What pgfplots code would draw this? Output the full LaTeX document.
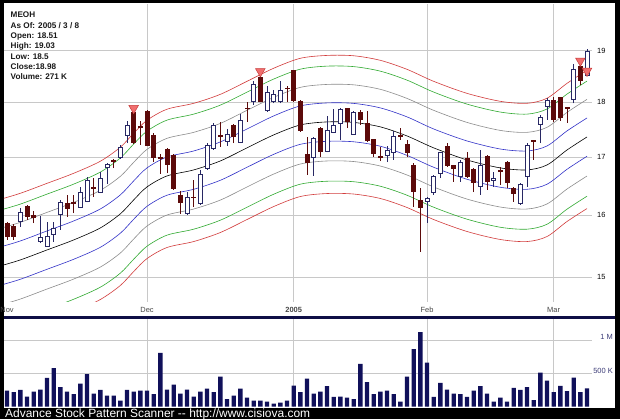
\documentclass[border=0pt]{standalone}
\usepackage{fontspec}
\setmainfont{Liberation Sans}
\usepackage{pgfplots}
\usepackage{pgfplotstable}
\pgfplotsset{compat=1.18}

\definecolor{candledn}{RGB}{92,10,10}
\definecolor{candleup}{RGB}{40,40,100}
\definecolor{bandred}{RGB}{210,60,60}
\definecolor{bandgreen}{RGB}{50,170,50}
\definecolor{bandgray}{RGB}{140,140,140}
\definecolor{bandblue}{RGB}{50,50,200}
\definecolor{gridgray}{RGB}{200,200,200}
\definecolor{volnavy}{RGB}{16,16,90}
\definecolor{framenavy}{RGB}{15,15,70}
\definecolor{markfill}{RGB}{240,110,110}
\definecolor{markdraw}{RGB}{200,60,60}
\definecolor{vollabel}{RGB}{60,60,120}
\definecolor{labelgray}{RGB}{70,70,70}

\pgfplotsset{
  upc wick/.style={draw=candleup, line width=0.7bp, mark=none},
  dnc wick/.style={draw=candledn, line width=0.8bp, mark=none},
  upc body/.style={draw=candleup, fill=white, line width=0.8bp, mark=none},
  dnc body/.style={draw=candledn, fill=candledn, line width=0.8bp, mark=none},
  envline/.style={line width=0.6bp, mark=none, smooth},
}

% daily candles, x = trading day (0 = 1 Nov 2004)
\pgfplotstableread{
i O H L C
0 15.867 15.894 15.593 15.647
1 15.811 15.850 15.593 15.659
2 15.894 16.118 15.811 16.044
3 16.145 16.174 15.922 15.978
4 15.995 16.078 15.867 15.967
5 15.577 15.989 15.540 15.630
6 15.496 15.894 15.485 15.659
7 15.675 15.894 15.566 15.785
8 16.006 16.258 15.757 16.213
9 16.203 16.343 15.978 16.118
10 16.216 16.343 16.034 16.191
11 16.135 16.475 16.118 16.382
12 16.229 16.659 16.220 16.589
13 16.470 16.630 16.314 16.455
14 16.382 16.735 16.372 16.630
15 16.823 16.893 16.532 16.875
16 16.951 16.975 16.805 16.925
17 17.000 17.219 16.975 17.176
18 17.386 17.656 17.250 17.569
19 17.804 17.860 17.237 17.261
20 17.560 17.656 17.219 17.535
21 17.829 17.860 17.190 17.219
22 17.399 17.435 16.921 17.000
23 16.990 17.063 16.705 16.975
24 17.142 17.160 16.717 16.875
25 17.040 17.058 16.429 16.446
26 16.343 16.417 16.023 16.220
27 16.023 16.400 16.006 16.292
28 16.309 16.601 16.145 16.292
29 16.202 16.775 16.174 16.705
30 16.805 17.249 16.775 17.201
31 17.159 17.624 17.129 17.582
32 17.399 17.643 17.189 17.372
33 17.279 17.503 17.201 17.412
34 17.582 17.600 17.250 17.369
35 17.261 17.792 17.250 17.661
36 17.897 18.000 17.643 17.878
37 18.024 18.416 17.953 18.339
38 18.480 18.524 18.000 18.011
39 17.847 18.301 17.829 18.185
40 18.013 18.236 17.983 18.154
41 18.013 18.400 17.983 18.236
42 18.274 18.301 18.013 18.255
43 18.602 18.621 18.015 18.034
44 18.015 18.047 17.461 17.490
45 17.058 17.365 16.688 16.904
46 16.994 17.365 16.671 17.332
47 17.521 17.539 17.011 17.099
48 17.099 17.749 17.090 17.490
49 17.443 17.873 17.430 17.582
50 17.612 17.892 17.302 17.873
51 17.892 17.897 17.521 17.643
52 17.413 17.840 17.399 17.817
53 17.810 17.860 17.582 17.686
54 17.613 17.840 17.279 17.297
55 17.327 17.330 17.000 17.070
56 17.022 17.189 16.927 16.998
57 17.040 17.201 16.910 17.129
58 17.082 17.478 16.951 17.380
59 17.399 17.521 17.309 17.372
60 17.231 17.309 17.000 17.088
61 16.863 16.903 16.145 16.400
62 16.258 16.458 15.404 16.135
63 16.241 16.315 15.877 16.286
64 16.390 16.688 16.343 16.662
65 16.717 17.099 16.630 17.081
66 17.199 17.249 16.834 16.863
67 16.863 16.870 16.572 16.793
68 16.658 16.951 16.572 16.903
69 16.979 17.099 16.630 16.658
70 16.787 16.810 16.389 16.555
71 16.497 17.129 16.343 16.863
72 17.011 17.040 16.429 16.572
73 16.589 16.746 16.486 16.630
74 16.766 16.834 16.515 16.749
75 16.904 16.933 16.458 16.561
76 16.458 16.486 16.229 16.372
77 16.202 16.555 16.174 16.532
78 16.666 17.249 16.486 17.219
79 17.299 17.309 16.951 17.282
80 17.599 17.767 17.250 17.723
81 17.934 18.074 17.674 18.047
82 18.047 18.110 17.643 17.686
83 18.091 18.110 17.661 17.723
84 17.916 17.920 17.624 17.888
85 18.060 18.738 17.983 18.635
86 18.686 18.751 18.332 18.416
87 18.510 19.030 18.500 18.980
}\candles

% envelope lines: upper red ... centre ... lower red
\pgfplotstableread{
i ru gu su bu c bl sl gl rl
-1 16.269 16.087 15.783 15.480 15.176 14.873 14.569 14.266 14.083
2 16.370 16.187 15.882 15.576 15.271 14.966 14.660 14.355 14.172
6 16.542 16.357 16.048 15.740 15.431 15.122 14.814 14.505 14.320
10 16.716 16.529 16.217 15.905 15.593 15.281 14.969 14.657 14.470
14 16.927 16.737 16.422 16.106 15.790 15.474 15.158 14.843 14.653
17 17.177 16.985 16.664 16.344 16.023 15.703 15.382 15.062 14.869
19 17.429 17.234 16.908 16.583 16.258 15.933 15.608 15.282 15.087
21 17.667 17.469 17.139 16.810 16.480 16.150 15.821 15.491 15.293
24 17.871 17.671 17.338 17.004 16.671 16.338 16.004 15.671 15.471
28 17.983 17.782 17.446 17.111 16.775 16.440 16.104 15.769 15.567
32 18.152 17.949 17.610 17.272 16.933 16.594 16.256 15.917 15.714
36 18.401 18.195 17.851 17.508 17.165 16.822 16.479 16.135 15.929
40 18.652 18.443 18.095 17.747 17.399 17.051 16.703 16.355 16.146
44 18.848 18.637 18.285 17.934 17.582 17.230 16.879 16.527 16.316
48 18.907 18.695 18.342 17.990 17.637 17.284 16.932 16.579 16.367
52 18.897 18.686 18.333 17.981 17.628 17.275 16.923 16.570 16.359
56 18.808 18.598 18.247 17.896 17.545 17.194 16.843 16.492 16.282
60 18.632 18.424 18.076 17.729 17.381 17.033 16.686 16.338 16.130
64 18.401 18.195 17.851 17.508 17.165 16.822 16.479 16.135 15.929
69 18.171 17.968 17.629 17.290 16.951 16.612 16.273 15.934 15.731
74 18.020 17.819 17.482 17.146 16.810 16.474 16.138 15.801 15.600
78 17.983 17.782 17.446 17.111 16.775 16.440 16.104 15.769 15.567
81 18.077 17.875 17.538 17.200 16.863 16.526 16.189 15.851 15.649
84 18.362 18.157 17.814 17.472 17.129 16.786 16.444 16.101 15.896
87 18.613 18.405 18.058 17.710 17.363 17.016 16.668 16.321 16.113
}\bands

% volume in thousands
\pgfplotstableread{
i v
0 240
1 215
2 250
3 150
4 225
5 255
6 430
7 575
8 290
9 225
10 185
11 345
12 485
13 195
14 250
15 165
16 165
17 90
18 250
19 225
20 240
21 240
22 185
23 805
24 255
25 330
26 195
27 255
28 150
29 225
30 270
31 215
32 450
33 110
34 165
35 270
36 135
37 90
38 90
39 75
40 45
41 60
42 90
43 315
44 215
45 420
46 195
47 225
48 305
49 145
50 150
51 135
52 110
53 640
54 365
55 185
56 225
57 240
58 185
59 75
60 450
61 860
62 1115
63 660
64 145
65 355
66 255
67 195
68 185
69 145
70 240
71 305
72 195
73 75
74 135
75 75
76 280
77 250
78 290
79 95
80 510
81 390
82 215
83 310
84 230
85 435
86 215
87 271
}\volume

\begin{document}
\begin{tikzpicture}[x=1bp,y=1bp]
\useasboundingbox (0,0) rectangle (620,419);
\fill[black] (0,0) rectangle (620,419);
\fill[framenavy] (4,100) rectangle (615,103);
\fill[white] (4,103) rectangle (615,416);
\fill[white] (4,11.5) rectangle (615,100);

% price panel
\begin{axis}[
  at={(4bp,117bp)}, anchor=south west,
  scale only axis, width=588bp, height=298bp,
  ymode=log,
  xmin=-0.45, xmax=87.75, ymin=14.616, ymax=19.949,
  axis line style={draw=none},
  major tick length=0pt,
  xtick={21,43,63,82},
  xticklabels={Dec,\textbf{2005},Feb,Mar},
  extra x ticks={0}, extra x tick labels={Nov},
  extra x tick style={grid=none},
  ytick={15,16,17,18,19},
  yticklabels={15,16,17,18,19},
  yticklabel pos=right,
  grid=major,
  major grid style={gridgray, line width=0.6bp},
  tick label style={font=\fontsize{7.5}{9}\selectfont, inner sep=0pt},
  xticklabel style={anchor=center, yshift=-7.5bp, text=labelgray},
  yticklabel style={anchor=west, xshift=5bp, text=black},
]
\addplot[envline, bandred]   table[x=i, y=ru] {\bands};
\addplot[envline, bandgreen] table[x=i, y=gu] {\bands};
\addplot[envline, bandgray]  table[x=i, y=su] {\bands};
\addplot[envline, bandblue]  table[x=i, y=bu] {\bands};
\addplot[envline, black]     table[x=i, y=c]  {\bands};
\addplot[envline, bandblue]  table[x=i, y=bl] {\bands};
\addplot[envline, bandgray]  table[x=i, y=sl] {\bands};
\addplot[envline, bandgreen] table[x=i, y=gl] {\bands};
\addplot[envline, bandred]   table[x=i, y=rl] {\bands};

\pgfplotstablegetrowsof{\candles}
\pgfmathtruncatemacro{\nrows}{\pgfplotsretval-1}
\pgfplotsforeachungrouped \rowidx in {0,...,\nrows}{%
  \pgfplotstablegetelem{\rowidx}{i}\of\candles \let\ci\pgfplotsretval
  \pgfplotstablegetelem{\rowidx}{O}\of\candles \let\co\pgfplotsretval
  \pgfplotstablegetelem{\rowidx}{H}\of\candles \let\ch\pgfplotsretval
  \pgfplotstablegetelem{\rowidx}{L}\of\candles \let\cl\pgfplotsretval
  \pgfplotstablegetelem{\rowidx}{C}\of\candles \let\cc\pgfplotsretval
  \pgfmathsetmacro{\xa}{\ci-0.3}%
  \pgfmathsetmacro{\xb}{\ci+0.3}%
  \pgfmathtruncatemacro{\isup}{\cc>\co ? 1 : 0}%
  \ifnum\isup=1 \def\cs{upc}\else\def\cs{dnc}\fi
  \edef\doit{%
    \noexpand\addplot[\cs\space wick] coordinates {(\ci,\cl) (\ci,\ch)};
    \noexpand\addplot[\cs\space body] coordinates {(\xa,\co) (\xb,\co) (\xb,\cc) (\xa,\cc)} --cycle;
  }\doit
}

\addplot[only marks, mark=triangle*, mark size=5.5bp,
  mark options={rotate=180, fill=markfill, draw=markdraw, line width=0.5bp}]
  coordinates {(19,17.89) (38,18.59) (86,18.80) (87,18.60)};
\end{axis}

% volume panel
\begin{axis}[
  at={(4bp,12.5bp)}, anchor=south west,
  scale only axis, width=588bp, height=87.5bp,
  xmin=-0.45, xmax=87.75, ymin=0, ymax=1313,
  ybar, bar width=0.65,
  axis line style={draw=none},
  major tick length=0pt,
  xtick={21,43,63,82}, xticklabels={},
  ytick={500,1000}, yticklabels={500 K,1 M},
  yticklabel pos=right,
  grid=major,
  major grid style={gridgray, line width=0.6bp},
  tick label style={font=\fontsize{7.5}{9}\selectfont, inner sep=0pt},
  yticklabel style={anchor=east, xshift=21bp, yshift=2.5bp, text=vollabel},
]
\addplot[fill=volnavy, draw=none] table[x=i, y=v] {\volume};
\end{axis}

% quote box
\begin{scope}[every node/.style={anchor=base west, inner sep=0pt,
    font=\fontsize{8.2}{10}\selectfont\bfseries, text=black!90}]
\node at (10.5,401.0) {MEOH};
\node at (10.5,390.7) {As Of: 2005 / 3 / 8};
\node at (10.5,380.4) {Open: 18.51};
\node at (10.5,370.1) {High: 19.03};
\node at (10.5,359.8) {Low: 18.5};
\node at (10.5,349.5) {Close:18.98};
\node at (10.5,339.2) {Volume: 271 K};
\end{scope}

\node[anchor=base west, inner sep=0pt, text=white,
  font=\fontsize{12}{14}\selectfont] at (5,1.8)
  {Advance Stock Pattern Scanner -{}- http://www.cisiova.com};
\end{tikzpicture}
\end{document}
